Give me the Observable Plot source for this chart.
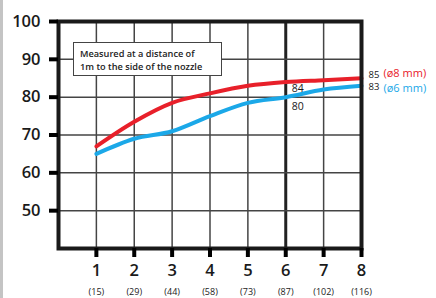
<!DOCTYPE html>
<html><head><meta charset="utf-8">
<script src="https://cdn.jsdelivr.net/npm/d3@7"></script>
<script src="https://cdn.jsdelivr.net/npm/@observablehq/plot@0.6"></script>
<style>
body{margin:0;background:#fff;}
#wrap{position:relative;width:436px;height:298px;overflow:hidden;}
#bar{position:absolute;left:0;top:0;width:3px;height:298px;background:#c4c4c4;}
#note{position:absolute;left:73px;top:42px;width:149px;height:34px;background:#fff;border:1px solid #444;
 font-family:"Open Sans",sans-serif;font-weight:600;font-size:9.2px;line-height:13px;color:#222;padding:4px 0 0 6px;box-sizing:border-box;white-space:nowrap;}
svg{font-family:"Open Sans",sans-serif;}
</style></head>
<body><div id="wrap"><div id="bar"></div></div>
<script>
const xs = [1, 2, 3, 4, 5, 6, 7, 8];
const flowLabels = ["(15)", "(29)", "(44)", "(58)", "(73)", "(87)", "(102)", "(116)"];
const yTicks = [50, 60, 70, 80, 90, 100];
const red8 = [67, 73.5, 78.5, 81, 83, 84, 84.5, 85];
const blue6 = [65, 69, 71, 75, 78.5, 80, 82, 83];
const noteLines = ["Measured at a distance of", "1m to the side of the nozzle"];

const redData = xs.map((x, i) => ({x, y: red8[i]}));
const blueData = xs.map((x, i) => ({x, y: blue6[i]}));
const RED = "#e8202a", BLUE = "#1ba8e8";

const chart = Plot.plot({
  width: 436, height: 298,
  marginLeft: 58, marginRight: 75, marginTop: 21, marginBottom: 50,
  x: {domain: [0, 8]},
  y: {domain: [40, 100]},
  marks: [
    Plot.gridX(xs.filter(d => d !== 6 && d !== 8), {stroke: "#444", strokeOpacity: 1, strokeWidth: 1.5}),
    Plot.gridX([6], {stroke: "#222", strokeOpacity: 1, strokeWidth: 3}),
    Plot.gridY([50, 60, 70, 80, 90], {stroke: "#444", strokeOpacity: 1, strokeWidth: 1.5}),
    Plot.line(redData, {x: "x", y: "y", stroke: RED, strokeWidth: 4, curve: "monotone-x"}),
    Plot.line(blueData, {x: "x", y: "y", stroke: BLUE, strokeWidth: 4, curve: "monotone-x"}),
    Plot.frame({stroke: "#1a1a1a", strokeWidth: 4}),
    Plot.axisY(yTicks, {tickSize: 9, tickPadding: 9, strokeWidth: 4, fontSize: 16.5, fontWeight: 600, fill: "#1a1a1a", label: null}),
    Plot.axisX(xs, {tickSize: 9, tickPadding: 7, strokeWidth: 4, fontSize: 16.5, fontWeight: 600, fill: "#1a1a1a", label: null}),
    Plot.axisX(xs, {tickSize: 0, tickPadding: 40, fontSize: 9, fill: "#222", tickFormat: (d, i) => flowLabels[i], label: null}),
    Plot.text([redData[5]], {x: "x", y: "y", text: d => String(d.y), dx: 6, dy: 7, textAnchor: "start", fontSize: 10.5, fill: "#1a1a1a"}),
    Plot.text([blueData[5]], {x: "x", y: "y", text: d => String(d.y), dx: 6, dy: 9, textAnchor: "start", fontSize: 10.5, fill: "#1a1a1a"}),
    Plot.text([redData[7]], {x: "x", y: "y", text: d => String(d.y), dx: 7, dy: -3, textAnchor: "start", fontSize: 9.5, fill: "#1a1a1a"}),
    Plot.text([redData[7]], {x: "x", y: "y", text: () => "(ø8 mm)", dx: 22, dy: -5, textAnchor: "start", fontSize: 11, fill: RED}),
    Plot.text([blueData[7]], {x: "x", y: "y", text: d => String(d.y), dx: 7, dy: 1.5, textAnchor: "start", fontSize: 9.5, fill: "#1a1a1a"}),
    Plot.text([blueData[7]], {x: "x", y: "y", text: () => "(ø6 mm)", dx: 22, dy: 3, textAnchor: "start", fontSize: 11, fill: BLUE})
  ]
});
const wrap = document.getElementById("wrap");
wrap.appendChild(chart);
const note = document.createElement("div");
note.id = "note";
note.innerHTML = noteLines.join("<br>");
wrap.appendChild(note);
</script></body></html>
